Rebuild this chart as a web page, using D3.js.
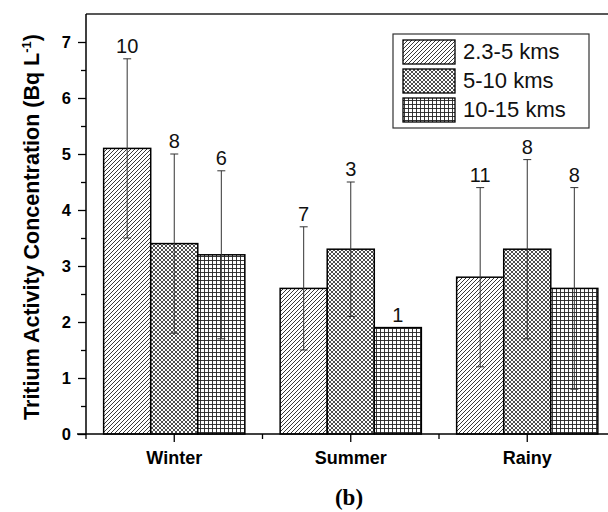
<!DOCTYPE html>
<html>
<head>
<meta charset="utf-8">
<script src="https://cdn.jsdelivr.net/npm/d3@7"></script>
<style>
  body { margin: 0; background: #fff; }
  svg { display: block; }
</style>
</head>
<body>
<svg id="chart" width="608" height="512"></svg>
<script>
// Seasons on the x axis, distance bands as grouped series
const seasons = ["Winter", "Summer", "Rainy"];
const bands = ["2.3-5 kms", "5-10 kms", "10-15 kms"];

// Mean tritium activity (Bq L-1) per season, one array per distance band
const mean2to5 = [5.1, 2.6, 2.8];
const mean5to10 = [3.4, 3.3, 3.3];
const mean10to15 = [3.2, 1.9, 2.6];

// Standard deviations (error bar half-lengths)
const sd2to5 = [1.6, 1.1, 1.6];
const sd5to10 = [1.6, 1.2, 1.6];
const sd10to15 = [1.5, 0, 1.8];

// Number of samples shown above each bar
const n2to5 = [10, 7, 11];
const n5to10 = [8, 3, 8];
const n10to15 = [6, 1, 8];

const yMajorTicks = [0, 1, 2, 3, 4, 5, 6, 7];
const yMinorTicks = [0.5, 1.5, 2.5, 3.5, 4.5, 5.5, 6.5];

const seriesMeans = [mean2to5, mean5to10, mean10to15];
const seriesSd = [sd2to5, sd5to10, sd10to15];
const seriesN = [n2to5, n5to10, n10to15];
const patternIds = ["pat-diag", "pat-cross", "pat-grid"];

const sans = "'Liberation Sans', Arial, Helvetica, sans-serif";
const serif = "'Liberation Serif', 'Times New Roman', serif";

const svg = d3.select("#chart").style("font-family", sans);
const plotLeft = 86, plotRight = 615.5, plotTop = 14, plotBottom = 434;

// Hatch patterns
const defs = svg.append("defs");
const hatchColor = "#222";
const p1 = defs.append("pattern").attr("id", "pat-diag")
  .attr("patternUnits", "userSpaceOnUse").attr("width", 4).attr("height", 4);
p1.append("rect").attr("width", 4).attr("height", 4).attr("fill", "#fff");
p1.append("path").attr("d", "M-1,1 L1,-1 M0,4 L4,0 M3,5 L5,3")
  .attr("stroke", hatchColor).attr("stroke-width", 0.9);

const p2 = defs.append("pattern").attr("id", "pat-cross")
  .attr("patternUnits", "userSpaceOnUse").attr("width", 4).attr("height", 4);
p2.append("rect").attr("width", 4).attr("height", 4).attr("fill", "#fff");
p2.append("path").attr("d", "M-1,1 L1,-1 M0,4 L4,0 M3,5 L5,3 M-1,3 L1,5 M0,0 L4,4 M3,-1 L5,1")
  .attr("stroke", hatchColor).attr("stroke-width", 0.8);

const p3 = defs.append("pattern").attr("id", "pat-grid")
  .attr("patternUnits", "userSpaceOnUse").attr("width", 4).attr("height", 4);
p3.append("rect").attr("width", 4).attr("height", 4).attr("fill", "#fff");
p3.append("path").attr("d", "M0.5,0 V4 M0,0.5 H4")
  .attr("stroke", hatchColor).attr("stroke-width", 0.9);

// Scales
const x = d3.scaleBand().domain(seasons).range([plotLeft, plotRight])
  .paddingInner(0.2).paddingOuter(0.1);
const xInner = d3.scaleBand().domain(bands).range([0, x.bandwidth()]);
const y = d3.scaleLinear().domain([0, 7.5]).range([plotBottom, plotTop]);

// Bars
bands.forEach((b, si) => {
  svg.append("g").selectAll("rect")
    .data(seasons.map((s, i) => ({ s, v: seriesMeans[si][i] })))
    .join("rect")
    .attr("x", d => x(d.s) + xInner(b))
    .attr("y", d => y(d.v))
    .attr("width", xInner.bandwidth())
    .attr("height", d => y(0) - y(d.v))
    .attr("fill", `url(#${patternIds[si]})`)
    .attr("stroke", "#000")
    .attr("stroke-width", 1.5);
});

// Error bars and sample counts
bands.forEach((b, si) => {
  seasons.forEach((s, i) => {
    const m = seriesMeans[si][i], e = seriesSd[si][i];
    const cx = x(s) + xInner(b) + xInner.bandwidth() / 2;
    const g = svg.append("g").attr("stroke", "#333").attr("stroke-width", 1);
    if (e > 0) {
      g.append("line").attr("x1", cx).attr("x2", cx).attr("y1", y(m - e)).attr("y2", y(m + e));
      [m - e, m + e].forEach(v => {
        g.append("line").attr("x1", cx - 4).attr("x2", cx + 4).attr("y1", y(v)).attr("y2", y(v));
      });
    }
    svg.append("text")
      .attr("x", cx).attr("y", y(m + e) - 6)
      .attr("text-anchor", "middle")
      .attr("font-size", 20).attr("fill", "#111")
      .text(seriesN[si][i]);
  });
});

// Frame (top and right edges)
svg.append("path")
  .attr("d", `M${plotLeft},${plotTop} H${plotRight} V${plotBottom}`)
  .attr("fill", "none").attr("stroke", "#222").attr("stroke-width", 1.5);

// Y axis: minor then major ticks
svg.append("g").attr("transform", `translate(${plotLeft},0)`)
  .call(d3.axisLeft(y).tickValues(yMinorTicks).tickSize(5).tickFormat(""))
  .call(g => g.select(".domain").remove())
  .call(g => g.selectAll("line").attr("stroke", "#000").attr("stroke-width", 1.3));

svg.append("g").attr("transform", `translate(${plotLeft},0)`)
  .call(d3.axisLeft(y).tickValues(yMajorTicks).tickSize(8).tickPadding(7).tickFormat(d3.format("d")))
  .call(g => g.attr("font-family", null).attr("font-size", null))
  .call(g => g.select(".domain").attr("d", `M0,${plotBottom} V${plotTop}`).attr("stroke", "#000").attr("stroke-width", 1.5))
  .call(g => g.selectAll("line").attr("stroke", "#000").attr("stroke-width", 1.3))
  .call(g => g.selectAll("text").attr("font-size", 16.5).attr("font-weight", "bold").attr("fill", "#000"));

// X axis
svg.append("g").attr("transform", `translate(0,${plotBottom})`)
  .call(d3.axisBottom(x).tickSize(8).tickPadding(9))
  .call(g => g.attr("font-family", null).attr("font-size", null))
  .call(g => g.select(".domain").attr("d", `M${plotLeft - 9},0 H${plotRight}`).attr("stroke", "#000").attr("stroke-width", 1.5))
  .call(g => g.selectAll("line").attr("stroke", "#000").attr("stroke-width", 1.3))
  .call(g => g.selectAll("text").attr("font-size", 18).attr("font-weight", "bold").attr("fill", "#000"));

// Minor ticks at group boundaries
const boundaries = seasons.map(s => x(s) - x.step() * x.paddingOuter()).concat([plotRight]);
svg.append("g").selectAll("line").data(boundaries).join("line")
  .attr("x1", d => d).attr("x2", d => d)
  .attr("y1", plotBottom).attr("y2", plotBottom + 5)
  .attr("stroke", "#000").attr("stroke-width", 1.3);

// Y axis title
svg.append("text")
  .attr("transform", `translate(39,227) rotate(-90)`)
  .attr("text-anchor", "middle")
  .attr("font-size", 21.5).attr("font-weight", "bold").attr("fill", "#000")
  .call(t => {
    t.append("tspan").text("Tritium Activity Concentration (Bq L");
    t.append("tspan").attr("font-size", 13).attr("dy", -8).text("-1");
    t.append("tspan").attr("dy", 8).text(")");
  });

// Legend
const legend = svg.append("g");
legend.append("rect").attr("x", 393).attr("y", 34).attr("width", 196).attr("height", 94)
  .attr("fill", "#fff").attr("stroke", "#333").attr("stroke-width", 1.2);
bands.forEach((b, i) => {
  const ly = 40 + i * 29;
  legend.append("rect").attr("x", 403).attr("y", ly).attr("width", 52).attr("height", 24)
    .attr("fill", `url(#${patternIds[i]})`).attr("stroke", "#000").attr("stroke-width", 1.3);
  legend.append("text").attr("x", 463).attr("y", ly + 19)
    .attr("font-size", 22).attr("fill", "#111").text(b);
});

// Panel label
svg.append("text")
  .attr("x", 349).attr("y", 505).attr("text-anchor", "middle")
  .style("font-family", serif)
  .attr("font-size", 23).attr("font-weight", "bold").attr("fill", "#000")
  .text("(b)");
</script>
</body>
</html>
